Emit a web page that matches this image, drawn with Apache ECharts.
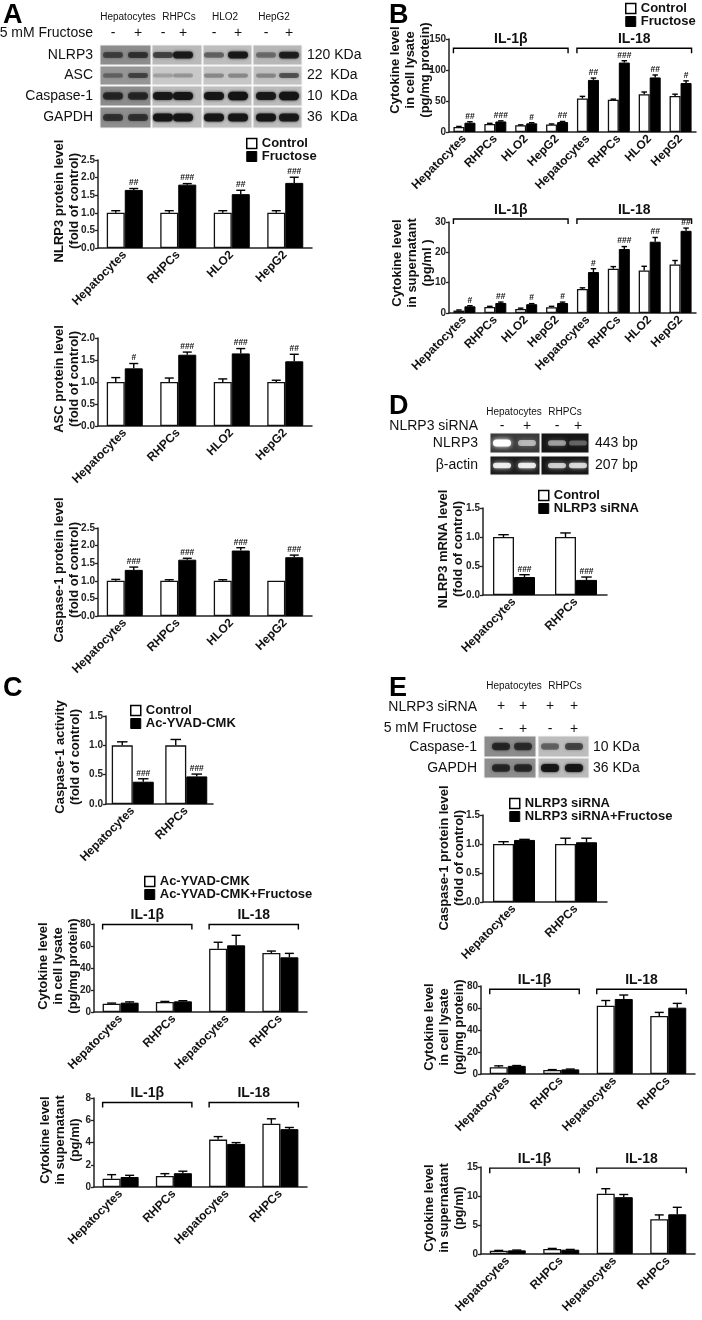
<!DOCTYPE html>
<html>
<head>
<meta charset="utf-8">
<script src="https://cdn.jsdelivr.net/npm/echarts@6.0.0/dist/echarts.min.js"></script>
<style>
  html, body { margin: 0; padding: 0; background: #fff; }
  #chart { width: 702px; height: 1320px; }
</style>
</head>
<body>
<div id="chart"></div>
<script>
const FONT = '"Liberation Sans", Arial, Helvetica, sans-serif';

// ---- categories ----
const cells4 = ['Hepatocytes', 'RHPCs', 'HLO2', 'HepG2'];
const cells8 = cells4.concat(cells4);
const cells2 = ['Hepatocytes', 'RHPCs'];
const cells2x2 = cells2.concat(cells2);
const cytokines = ['IL-1β', 'IL-18'];

// ---- A: protein levels (fold of control) ----
const aNlrp3Ctrl = [1.0, 1.0, 1.0, 1.0];
const aNlrp3CtrlErr = [0.06, 0.06, 0.06, 0.06];
const aNlrp3Fru = [1.65, 1.8, 1.53, 1.85];
const aNlrp3FruErr = [0.04, 0.03, 0.11, 0.16];
const aNlrp3Sig = ['##', '###', '##', '###'];

const aAscCtrl = [1.0, 1.0, 1.0, 1.0];
const aAscCtrlErr = [0.1, 0.09, 0.07, 0.04];
const aAscFru = [1.31, 1.62, 1.65, 1.47];
const aAscFruErr = [0.11, 0.06, 0.11, 0.16];
const aAscSig = ['#', '###', '###', '##'];

const aCasCtrl = [1.0, 1.0, 1.0, 1.0];
const aCasCtrlErr = [0.04, 0.03, 0.03, 0];
const aCasFru = [1.31, 1.6, 1.86, 1.67];
const aCasFruErr = [0.08, 0.04, 0.08, 0.06];
const aCasSig = ['###', '###', '###', '###'];

// ---- B: cytokines ----
const bLysCtrl = [8, 13, 11, 12, 54, 52, 61, 58];
const bLysCtrlErr = [1, 1, 0.5, 1, 3.5, 1, 3.5, 3];
const bLysFru = [15, 17, 14, 16, 84, 112, 88, 79];
const bLysFruErr = [1.5, 1, 1, 1, 3, 3, 4, 3.5];
const bLysSig = ['##', '###', '#', '##', '##', '###', '##', '#'];

const bSupCtrl = [0.8, 2.0, 1.3, 1.9, 7.9, 14.6, 14.0, 16.0];
const bSupCtrlErr = [0.2, 0.2, 0.3, 0.3, 0.4, 0.7, 1.4, 1.3];
const bSupFru = [2.2, 3.3, 2.9, 3.3, 13.5, 21.1, 23.5, 27.1];
const bSupFruErr = [0.2, 0.3, 0.2, 0.3, 1.1, 0.8, 1.4, 0.9];
const bSupSig = ['#', '##', '#', '#', '#', '###', '##', '##'];

// ---- C: Ac-YVAD-CMK ----
const cActCtrl = [1.0, 1.0];
const cActCtrlErr = [0.06, 0.1];
const cActYvad = [0.38, 0.47];
const cActYvadErr = [0.05, 0.04];
const cActSig = ['###', '###'];

const cLysYvad = [7.6, 9.1, 57.6, 53.6];
const cLysYvadErr = [0.5, 0.5, 5.8, 1.8];
const cLysYvadFru = [8.5, 9.7, 60.6, 49.7];
const cLysYvadFruErr = [0.7, 0.6, 9.1, 3.6];

const cSupYvad = [0.75, 1.0, 4.26, 5.68];
const cSupYvadErr = [0.36, 0.2, 0.27, 0.45];
const cSupYvadFru = [0.9, 1.24, 3.87, 5.2];
const cSupYvadFruErr = [0.15, 0.18, 0.12, 0.15];

// ---- D: NLRP3 mRNA ----
const dCtrl = [1.0, 1.0];
const dCtrlErr = [0.04, 0.07];
const dSirna = [0.31, 0.26];
const dSirnaErr = [0.04, 0.05];
const dSig = ['###', '###'];

// ---- E: NLRP3 siRNA ----
const eCasSi = [1.0, 1.0];
const eCasSiErr = [0.04, 0.1];
const eCasSiFru = [1.07, 1.03];
const eCasSiFruErr = [0.01, 0.07];

const eLysSi = [6.1, 3.6, 62, 52.7];
const eLysSiErr = [1.3, 0.4, 4.8, 3.3];
const eLysSiFru = [7.4, 4.2, 68.2, 60.3];
const eLysSiFruErr = [0.3, 0.3, 3.6, 3.9];

const eSupSi = [0.57, 0.86, 10.4, 6.0];
const eSupSiErr = [0.05, 0.1, 0.86, 0.74];
const eSupSiFru = [0.63, 0.74, 9.8, 6.85];
const eSupSiFruErr = [0.05, 0.05, 0.46, 1.2];

// ---- blot band intensities (per lane) ----
const blotA = [
  [0.55, 0.65, 0.6, 0.9, 0.45, 0.9, 0.4, 0.85],
  [0.35, 0.55, 0.2, 0.25, 0.3, 0.3, 0.3, 0.55],
  [0.75, 0.75, 0.9, 0.95, 0.95, 1.0, 0.9, 1.0],
  [0.65, 0.65, 0.95, 0.95, 0.95, 0.95, 0.95, 0.9]
];
const blotD = [
  [1.0, 0.55, 0.5, 0.3],
  [0.85, 0.85, 0.7, 0.75]
];
const blotE = [
  [0.75, 0.7, 0.45, 0.6],
  [0.75, 0.75, 0.95, 0.95]
];

// ---- layout of each bar panel ----
const LYS = ['Cytokine level', 'in cell lysate', '(pg/mg protein)'];
const SUP = ['Cytokine level', 'in supernatant', '(pg/ml)'];
const FOLD = '(fold of control)';
const panels = [
  { grid: [98, 160, 214, 88], max: 2.5, step: 0.5, dec: 1, cats: cells4, bw: 18,
    d: [aNlrp3Ctrl, aNlrp3CtrlErr, aNlrp3Fru, aNlrp3FruErr, aNlrp3Sig], names: ['Control', 'Fructose'],
    yName: ['NLRP3 protein level', FOLD], yAt: [67, 201] },
  { grid: [98, 338, 214, 88], max: 2.0, step: 0.5, dec: 1, cats: cells4, bw: 18,
    d: [aAscCtrl, aAscCtrlErr, aAscFru, aAscFruErr, aAscSig], names: ['Control', 'Fructose'],
    yName: ['ASC protein level', FOLD], yAt: [67, 379] },
  { grid: [98, 528, 214, 88], max: 2.5, step: 0.5, dec: 1, cats: cells4, bw: 18,
    d: [aCasCtrl, aCasCtrlErr, aCasFru, aCasFruErr, aCasSig], names: ['Control', 'Fructose'],
    yName: ['Caspase-1 protein level', FOLD], yAt: [67, 570] },
  { grid: [449, 39, 247, 93], max: 150, step: 50, dec: 0, cats: cells8, bw: 11,
    d: [bLysCtrl, bLysCtrlErr, bLysFru, bLysFruErr, bLysSig], names: ['Control', 'Fructose'],
    yName: LYS, yAt: [410, 70], bracket: [[0, 3, 135], [4, 7, 135]] },
  { grid: [449, 222, 247, 91], max: 30, step: 10, dec: 0, cats: cells8, bw: 11,
    d: [bSupCtrl, bSupCtrlErr, bSupFru, bSupFruErr, bSupSig], names: ['Control', 'Fructose'],
    yName: ['Cytokine level', 'in supernatant', '(pg/ml )'], yAt: [412, 263], bracket: [[0, 3, 31], [4, 7, 31]] },
  { grid: [106, 716, 107, 88], max: 1.5, step: 0.5, dec: 1, cats: cells2, bw: 21,
    d: [cActCtrl, cActCtrlErr, cActYvad, cActYvadErr, cActSig], names: ['Control', 'Ac-YVAD-CMK'],
    yName: ['Caspase-1 activity', FOLD], yAt: [68, 757] },
  { grid: [94, 924, 213, 88], max: 80, step: 20, dec: 0, cats: cells2x2, bw: 18,
    d: [cLysYvad, cLysYvadErr, cLysYvadFru, cLysYvadFruErr, null], names: ['Ac-YVAD-CMK', 'Ac-YVAD-CMK+Fructose'],
    yName: LYS, yAt: [58, 966], bracket: [[0, 1, 79.5], [2, 3, 79.5]] },
  { grid: [94, 1098, 213, 89], max: 8, step: 2, dec: 0, cats: cells2x2, bw: 18,
    d: [cSupYvad, cSupYvadErr, cSupYvadFru, cSupYvadFruErr, null], names: ['Ac-YVAD-CMK', 'Ac-YVAD-CMK+Fructose'],
    yName: SUP, yAt: [60, 1140], bracket: [[0, 1, 7.6], [2, 3, 7.6]] },
  { grid: [483, 508, 124, 87], max: 1.5, step: 0.5, dec: 1, cats: cells2, bw: 21,
    d: [dCtrl, dCtrlErr, dSirna, dSirnaErr, dSig], names: ['Control', 'NLRP3 siRNA'],
    yName: ['NLRP3 mRNA level', FOLD], yAt: [451, 549] },
  { grid: [483, 815, 124, 87], max: 1.5, step: 0.5, dec: 1, cats: cells2, bw: 21,
    d: [eCasSi, eCasSiErr, eCasSiFru, eCasSiFruErr, null], names: ['NLRP3 siRNA', 'NLRP3 siRNA+Fructose'],
    yName: ['Caspase-1 protein level', FOLD], yAt: [452, 858] },
  { grid: [481, 986, 214, 88], max: 80, step: 20, dec: 0, cats: cells2x2, bw: 18,
    d: [eLysSi, eLysSiErr, eLysSiFru, eLysSiFruErr, null], names: ['NLRP3 siRNA', 'NLRP3 siRNA+Fructose'],
    yName: LYS, yAt: [444, 1027], bracket: [[0, 1, 77], [2, 3, 77]] },
  { grid: [481, 1167, 214, 87], max: 15, step: 5, dec: 0, cats: cells2x2, bw: 18,
    d: [eSupSi, eSupSiErr, eSupSiFru, eSupSiFruErr, null], names: ['NLRP3 siRNA', 'NLRP3 siRNA+Fructose'],
    yName: SUP, yAt: [444, 1208], bracket: [[0, 1, 14.8], [2, 3, 14.8]] }
];

const WHITE = { color: '#fff', borderColor: '#000', borderWidth: 1.5 };
const BLACK = { color: '#000', borderColor: '#000', borderWidth: 1 };
const legends = [
  { left: 246, top: 137, items: [['Control', WHITE], ['Fructose', BLACK]] },
  { left: 625, top: 2, items: [['Control', WHITE], ['Fructose', BLACK]] },
  { left: 130, top: 704, items: [['Control', WHITE], ['Ac-YVAD-CMK', BLACK]] },
  { left: 144, top: 875, items: [['Ac-YVAD-CMK', WHITE], ['Ac-YVAD-CMK+Fructose', BLACK]] },
  { left: 538, top: 489, items: [['Control', WHITE], ['NLRP3 siRNA', BLACK]] },
  { left: 509, top: 797, items: [['NLRP3 siRNA', WHITE], ['NLRP3 siRNA+Fructose', BLACK]] }
];

// error bar (upper only) + significance marks
function errRender(off, bw, sig) {
  return function (params, api) {
    const k = api.value(0), v = api.value(1), e = api.value(2);
    const base = api.coord([k, v]);
    const top = api.coord([k, v + e]);
    const x = base[0] + off;
    const cap = bw * 0.5;
    const kids = [];
    if (e > 0) {
      kids.push({ type: 'line', shape: { x1: x, y1: base[1], x2: x, y2: top[1] },
        style: { stroke: '#000', lineWidth: 1.4 } });
      kids.push({ type: 'line', shape: { x1: x - cap / 2, y1: top[1], x2: x + cap / 2, y2: top[1] },
        style: { stroke: '#000', lineWidth: 1.4 } });
    }
    if (sig) {
      kids.push({ type: 'text', x: x, y: top[1] - 1,
        style: { text: sig[params.dataIndex], fontSize: 8.5, fontWeight: 'bold', fontFamily: FONT,
          fill: '#111', textAlign: 'center', textVerticalAlign: 'bottom' } });
    }
    return { type: 'group', children: kids };
  };
}

function bracketRender(bw) {
  return function (params, api) {
    const a = api.coord([api.value(0), api.value(2)]);
    const b = api.coord([api.value(1), api.value(2)]);
    const x1 = a[0] - bw, x2 = b[0] + bw, y = a[1];
    return { type: 'group', children: [
      { type: 'polyline', shape: { points: [[x1, y + 5], [x1, y], [x2, y], [x2, y + 5]] },
        style: { stroke: '#000', lineWidth: 1.4, fill: null } },
      { type: 'text', x: (x1 + x2) / 2, y: y - 2,
        style: { text: cytokines[params.dataIndex], fontSize: 14, fontWeight: 'bold', fontFamily: FONT,
          fill: '#111', textAlign: 'center', textVerticalAlign: 'bottom' } }
    ] };
  };
}

const option = {
  animation: false,
  backgroundColor: '#fff',
  textStyle: { fontFamily: FONT },
  grid: [], xAxis: [], yAxis: [], series: [], legend: [], graphic: []
};

panels.forEach(function (p, i) {
  option.grid.push({ left: p.grid[0], top: p.grid[1], width: p.grid[2], height: p.grid[3], containLabel: false });
  option.xAxis.push({
    gridIndex: i, type: 'category', data: p.cats,
    axisLine: { show: true, lineStyle: { color: '#222', width: 1.5 } },
    axisTick: { show: false },
    axisLabel: { interval: 0, rotate: 45, margin: 5, fontSize: 12, fontWeight: 'bold', color: '#111', fontFamily: FONT }
  });
  option.yAxis.push({
    gridIndex: i, type: 'value', min: 0, max: p.max, interval: p.step,
    splitLine: { show: false },
    axisLine: { show: true, lineStyle: { color: '#222', width: 1.5 } },
    axisTick: { show: true, length: 3, lineStyle: { color: '#222', width: 1.3 } },
    axisLabel: { margin: 3, fontSize: 10, fontWeight: 'bold', color: '#222', fontFamily: FONT,
      formatter: function (v) { return p.dec ? v.toFixed(p.dec) : String(v); } }
  });
  const d = p.d;
  option.series.push({ type: 'bar', name: p.names[0], xAxisIndex: i, yAxisIndex: i, data: d[0],
    barWidth: p.bw, barGap: '0%', silent: true, itemStyle: { color: '#fff', borderColor: '#111', borderWidth: 1.3 } });
  option.series.push({ type: 'bar', name: p.names[1], xAxisIndex: i, yAxisIndex: i, data: d[2],
    barWidth: p.bw, barGap: '0%', silent: true, itemStyle: { color: '#000', borderColor: '#000', borderWidth: 1 } });
  option.series.push({ type: 'custom', xAxisIndex: i, yAxisIndex: i, z: 5, clip: false, silent: true,
    data: d[0].map(function (v, k) { return [k, v, d[1][k]]; }), renderItem: errRender(-p.bw / 2, p.bw, null) });
  option.series.push({ type: 'custom', xAxisIndex: i, yAxisIndex: i, z: 5, clip: false, silent: true,
    data: d[2].map(function (v, k) { return [k, v, d[3][k]]; }), renderItem: errRender(p.bw / 2, p.bw, d[4]) });
  if (p.bracket) {
    option.series.push({ type: 'custom', xAxisIndex: i, yAxisIndex: i, z: 5, clip: false, silent: true,
      data: p.bracket, renderItem: bracketRender(p.bw) });
  }
  option.graphic.push({ type: 'text', x: p.yAt[0], y: p.yAt[1], rotation: Math.PI / 2, silent: true,
    style: { text: p.yName.join('\n'), fontSize: 13, fontWeight: 'bold', fontFamily: FONT, fill: '#111',
      lineHeight: 15, textAlign: 'center', textVerticalAlign: 'middle' } });
});

legends.forEach(function (lg) {
  option.legend.push({
    left: lg.left, top: lg.top, orient: 'vertical', padding: 0, itemGap: 0,
    itemWidth: 10, itemHeight: 10, icon: 'rect', selectedMode: false,
    textStyle: { fontSize: 13, fontWeight: 'bold', color: '#111', fontFamily: FONT },
    data: lg.items.map(function (it) { return { name: it[0], icon: 'rect', itemStyle: it[1] }; })
  });
});

// ---- text helper for graphic ----
function txt(x, y, s, size, align, weight) {
  return { type: 'text', x: x, y: y, silent: true,
    style: { text: s, fontSize: size, fontWeight: weight || 'normal', fontFamily: FONT, fill: '#111',
      textAlign: align || 'left', textVerticalAlign: 'middle' } };
}

// ---- blot drawing ----
function drawBlot(secX, secW, rowY, rowH, bgs, lanes, bands, bandW, bandH, light) {
  const g = [];
  rowY.forEach(function (ry, r) {
    secX.forEach(function (sx, s) {
      g.push({ type: 'rect', silent: true, shape: { x: sx, y: ry, width: secW[s], height: rowH[r] },
        style: { fill: bgs[r][s], stroke: '#f4f4f4', lineWidth: 1 } });
    });
  });
  rowY.forEach(function (ry, r) {
    lanes.forEach(function (lx, l) {
      const v = bands[r][l];
      const h = bandH[r] * (0.7 + 0.5 * v);
      const col = light ? 'rgba(255,255,255,' + v + ')' : 'rgba(20,20,20,' + v + ')';
      g.push({ type: 'rect', silent: true,
        shape: { x: lx - bandW / 2, y: ry + rowH[r] / 2 - h / 2, width: bandW, height: h, r: h / 2 },
        style: { fill: col, shadowBlur: light ? 5 : 3, shadowColor: col } });
    });
  });
  return g;
}

const G = option.graphic;
// panel letters
[['A', 3, 2], ['B', 389, 2], ['C', 3, 675], ['D', 389, 393], ['E', 389, 675]].forEach(function (l) {
  G.push({ type: 'text', x: l[1], y: l[2], silent: true,
    style: { text: l[0], fontSize: 27, fontWeight: 'bold', fontFamily: FONT, fill: '#000', textAlign: 'left', textVerticalAlign: 'top' } });
});

// Blot A
const lanesA = [113, 138, 163, 183, 214, 238, 266, 289];
const bgA = [
  ['#8d8d8d', '#b9b9b9', '#bdbdbd', '#b7b7b7'],
  ['#969696', '#c9c9c9', '#c6c6c6', '#c2c2c2'],
  ['#8c8c8c', '#bcbcbc', '#bfbfbf', '#bbbbbb'],
  ['#8e8e8e', '#bdbdbd', '#c0c0c0', '#bcbcbc']
];
drawBlot([100, 152, 203, 253], [51, 50, 49, 49], [45, 66, 86, 107], [20, 19, 20, 21], bgA, lanesA, blotA, 20, [6, 5, 7, 7], false)
  .forEach(function (e) { G.push(e); });
G.push(txt(128, 17, 'Hepatocytes', 10, 'center'));
G.push(txt(179, 17, 'RHPCs', 10, 'center'));
G.push(txt(225, 17, 'HLO2', 10, 'center'));
G.push(txt(274, 17, 'HepG2', 10, 'center'));
G.push(txt(93, 33, '5 mM Fructose', 14, 'right'));
['-', '+', '-', '+', '-', '+', '-', '+'].forEach(function (s, k) { G.push(txt(lanesA[k], 33, s, 14, 'center')); });
[['NLRP3', 55], ['ASC', 75], ['Caspase-1', 96], ['GAPDH', 117]].forEach(function (r) { G.push(txt(93, r[1], r[0], 14, 'right')); });
[['120 KDa', 55], ['22  KDa', 75], ['10  KDa', 96], ['36  KDa', 117]].forEach(function (r) { G.push(txt(307, r[1], r[0], 14, 'left')); });

// Blot D (gel)
const lanesD = [502, 527, 557, 578];
drawBlot([490, 541], [50, 48], [433, 456], [20, 19], [['#3a3a3a', '#161616'], ['#1c1c1c', '#161616']],
  lanesD, blotD, 18, [6, 5], true).forEach(function (e) { G.push(e); });
G.push(txt(514, 412, 'Hepatocytes', 10, 'center'));
G.push(txt(565, 412, 'RHPCs', 10, 'center'));
G.push(txt(478, 426, 'NLRP3 siRNA', 14, 'right'));
['-', '+', '-', '+'].forEach(function (s, k) { G.push(txt(lanesD[k], 426, s, 14, 'center')); });
G.push(txt(478, 443, 'NLRP3', 14, 'right'));
G.push(txt(478, 465, 'β-actin', 14, 'right'));
G.push(txt(595, 443, '443 bp', 14, 'left'));
G.push(txt(595, 465, '207 bp', 14, 'left'));

// Blot E
const lanesE = [501, 523, 550, 574];
drawBlot([484, 538], [52, 51], [736, 758], [21, 20], [['#8c8c8c', '#bdbdbd'], ['#8e8e8e', '#bbbbbb']],
  lanesE, blotE, 18, [7, 7], false).forEach(function (e) { G.push(e); });
G.push(txt(514, 686, 'Hepatocytes', 10, 'center'));
G.push(txt(565, 686, 'RHPCs', 10, 'center'));
G.push(txt(477, 707, 'NLRP3 siRNA', 14, 'right'));
['+', '+', '+', '+'].forEach(function (s, k) { G.push(txt(lanesE[k], 706, s, 14, 'center')); });
G.push(txt(477, 728, '5 mM Fructose', 14, 'right'));
['-', '+', '-', '+'].forEach(function (s, k) { G.push(txt(lanesE[k], 729, s, 14, 'center')); });
G.push(txt(477, 747, 'Caspase-1', 14, 'right'));
G.push(txt(477, 768, 'GAPDH', 14, 'right'));
G.push(txt(593, 747, '10 KDa', 14, 'left'));
G.push(txt(593, 768, '36 KDa', 14, 'left'));

const chart = echarts.init(document.getElementById('chart'));
chart.setOption(option);
</script>
</body>
</html>
